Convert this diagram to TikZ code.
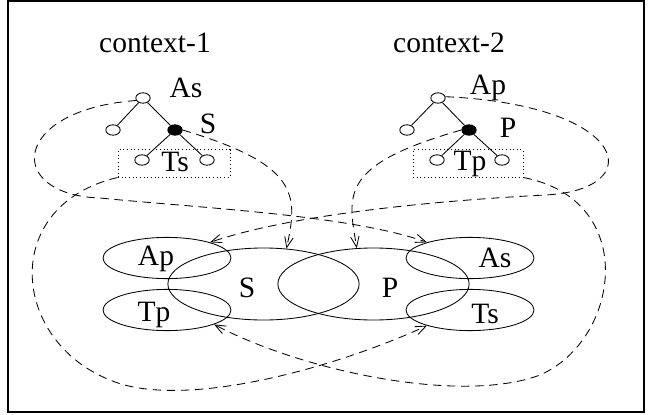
\documentclass[tikz,border=0pt]{standalone}
\usepackage{fontspec}
\setmainfont{Liberation Serif}
\usetikzlibrary{arrows.meta,shapes.geometric}
\begin{document}
\begin{tikzpicture}[x=0.025cm, y=-0.025cm, line width=0.6pt,
	>={Straight Barb[length=7.5pt,width=6pt]},
	every node/.style={font=\fontsize{21}{25}\selectfont},
	dot/.style={draw, ellipse, inner sep=0pt, minimum width=0.36cm, minimum height=0.26cm},
	full/.style={dot, fill=black},
	setbox/.style={draw, dotted, inner sep=0pt, minimum width=2.8cm, minimum height=0.68cm},
	blob/.style={draw, ellipse, inner sep=0pt},
	link/.style={->, dash pattern=on 6pt off 4pt}]
	
	% 1. Khung ngoai
	\useasboundingbox (0,0) rectangle (659,415);
	\draw[line width=1.1pt] (8,1) rectangle (644,412);
	
	% 2. Tieu de hai ngu canh
	\node (ctx1) at (155,43) {context-1};
	\node (ctx2) at (449,43) {context-2};
	
	% 3. Cay thu nhat
	\node[dot]  (a1) at (143,98) {};
	\node[dot]  (l1) at (113,130) {};
	\node[full] (s1) at (175,130) {};
	\node[dot]  (t1) at (142,160) {};
	\node[dot]  (r1) at (207,160) {};
	\draw (a1) -- (l1);
	\draw (a1) -- (s1);
	\draw (s1) -- (t1);
	\draw (s1) -- (r1);
	\node[setbox] (box1) at (174,163.5) {};
	\node (la1) at (186,88) {As};
	\node (ls1) at (208,124) {S};
	\node (lt1) at (175,162) {Ts};
	
	% 4. Cay thu hai
	\node[dot]  (a2) at (438,98) {};
	\node[dot]  (l2) at (407,130) {};
	\node[full] (p2) at (469,130) {};
	\node[dot]  (t2) at (437,160) {};
	\node[dot]  (r2) at (502,160) {};
	\draw (a2) -- (l2);
	\draw (a2) -- (p2);
	\draw (p2) -- (t2);
	\draw (p2) -- (r2);
	\node[setbox, minimum width=2.75cm] (box2) at (468,163.5) {};
	\node (la2) at (488,88) {Ap};
	\node (lp2) at (508,128) {P};
	\node (lt2) at (470,164) {Tp};
	
	% 5. Cac elip ben duoi
	\node[blob, minimum width=4.78cm, minimum height=1.8cm] (eS) at (263.5,284) {};
	\node[blob, minimum width=4.78cm, minimum height=1.8cm] (eP) at (373.5,284) {};
	\node[blob, minimum width=3.2cm, minimum height=1.03cm] (eAp) at (167,258) {};
	\node[blob, minimum width=3.2cm, minimum height=1.03cm] (eTp) at (167,310) {};
	\node[blob, minimum width=3.2cm, minimum height=1.03cm] (eAs) at (470,258) {};
	\node[blob, minimum width=3.2cm, minimum height=1.03cm] (eTs) at (470,310) {};
	\node (tS) at (247,288) {S};
	\node (tP) at (390,288) {P};
	\node (tAp) at (156,259) {Ap};
	\node (tTp) at (154,315) {Tp};
	\node (tAs) at (495,258) {As};
	\node (tTs) at (485,314) {Ts};
	
	% 6. Cac mui ten net dut
	\draw[link] (s1.east) .. controls (300,165) and (298,195) .. (eS.57);
	\draw[link] (p2.west) .. controls (338,165) and (348,195) .. (eP.115);
	\draw[link] (a1.200) .. controls (10,110) and (5,195) .. (100,198)
		.. controls (200,208) and (350,215) .. (eAs.160);
	\draw[link] (a2.10) .. controls (630,105) and (650,190) .. (545,195)
		.. controls (430,201) and (290,215) .. (eAp.20);
	\draw[link] (box1.south west) .. controls (0,205) and (10,340) .. (110,380)
		.. controls (180,410) and (330,370) .. (eTs.200);
	\draw[link] (box2.south east) .. controls (640,200) and (620,340) .. (540,375)
		.. controls (460,405) and (300,370) .. (eTp.-17);
	
\end{tikzpicture}
\end{document}
